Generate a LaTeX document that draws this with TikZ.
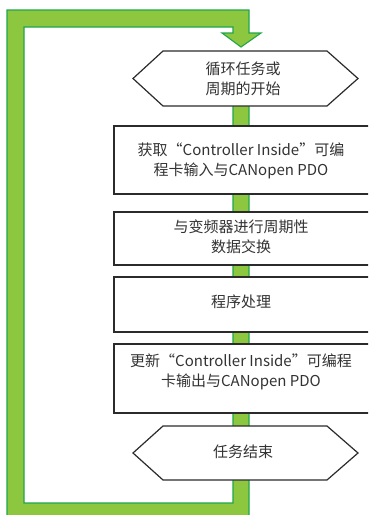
\documentclass[tikz,border=0pt]{standalone}
\usepackage{fontspec}
\setmainfont{Noto Sans CJK SC}
\definecolor{bandfill}{HTML}{8DC63F}
\definecolor{bandline}{HTML}{1FA64A}
\definecolor{txt}{HTML}{333333}
\definecolor{edge}{HTML}{2B2B2B}
\tikzset{
  band/.style={fill=bandfill, draw=bandline, line width=1.1pt, line join=miter},
  stepbox/.style={fill=white, draw=edge, line width=1.2pt},
  label/.style={text=txt, align=center, font=\fontsize{15}{20}\selectfont, inner sep=0pt}
}
\begin{document}
\begin{tikzpicture}[x=1pt,y=-1pt]
\useasboundingbox (0,0) rectangle (368,515);
\clip (0,0) rectangle (368,515);
% green loop band with arrowhead
\draw[band] (7,522) -- (7,10) -- (249,10) -- (249,33) -- (261,33) -- (241,47)
  -- (222,33) -- (233,33) -- (233,27) -- (24,27) -- (24,503) -- (233,503)
  -- (233,100) -- (249,100) -- (249,522) -- cycle;
% start hexagon
\draw[stepbox] (133,78.5) -- (163,51) -- (327,51) -- (358,78.5) -- (327,106) -- (163,106) -- cycle;
\node[label] (start) at (243,78.5) {循环任务或\\周期的开始};
% boxes
\draw[stepbox] (114,126) rectangle (372,194);
\node[label] (read) at (241,161) {获取“Controller Inside”可编\\程卡输入与CANopen PDO};
\draw[stepbox] (114,212) rectangle (372,265);
\node[label] (exch) at (241,237) {与变频器进行周期性\\数据交换};
\draw[stepbox] (114,277) rectangle (372,332);
\node[label] (proc) at (241,302) {程序处理};
\draw[stepbox] (114,344) rectangle (372,413);
\node[label] (write) at (241,372) {更新“Controller Inside”可编程\\卡输出与CANopen PDO};
% end hexagon
\draw[stepbox] (133,453) -- (163,426) -- (327,426) -- (358,453) -- (327,480) -- (163,480) -- cycle;
\node[label] (finish) at (243,452) {任务结束};
\end{tikzpicture}
\end{document}
